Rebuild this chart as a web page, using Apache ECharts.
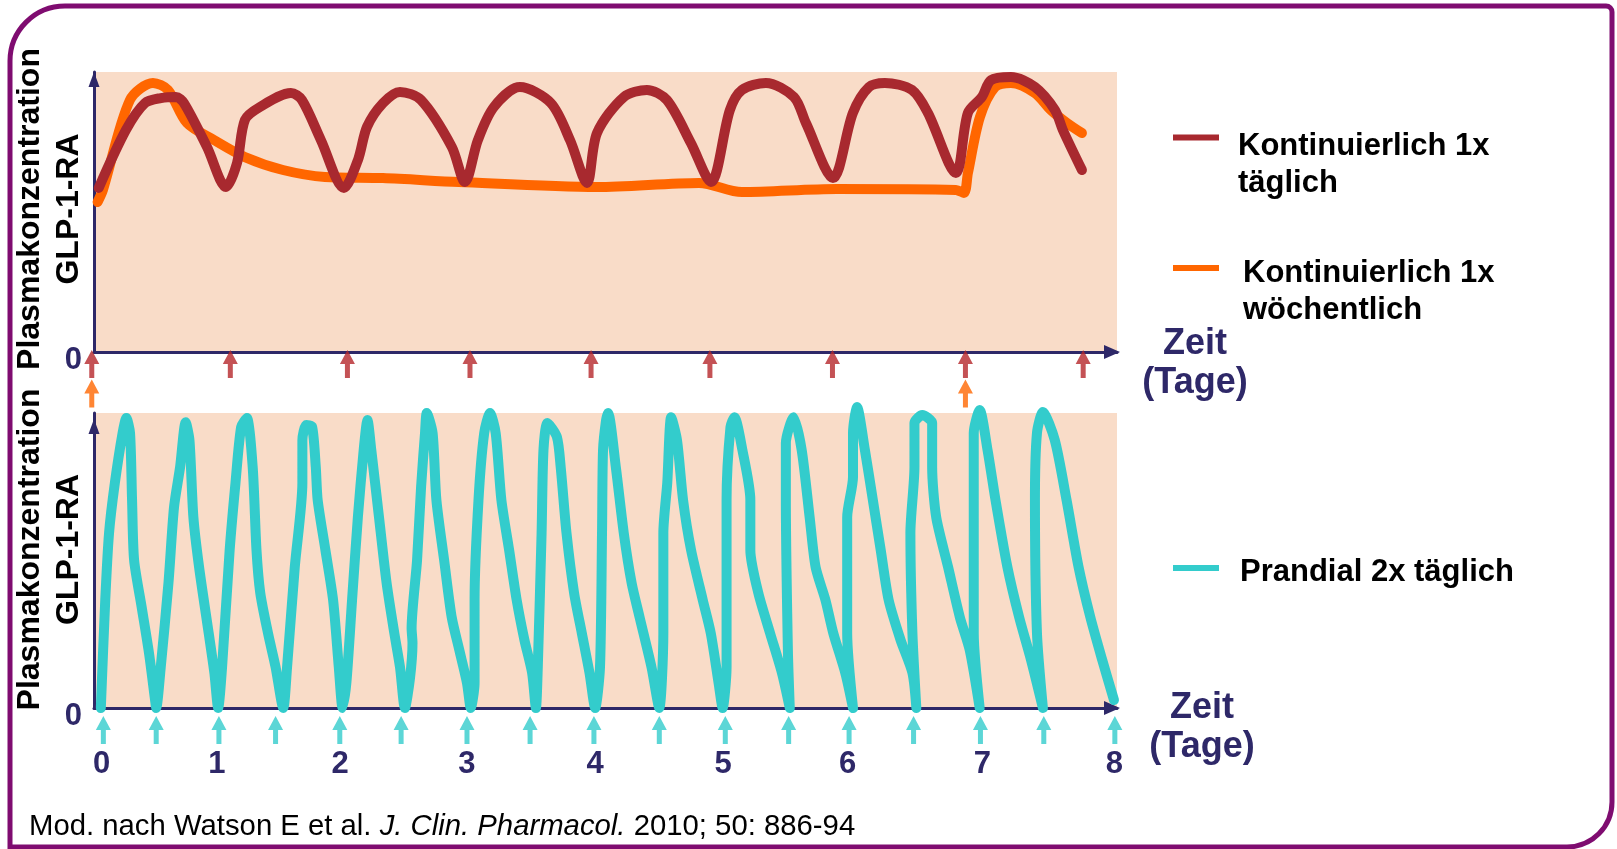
<!DOCTYPE html>
<html><head><meta charset="utf-8">
<script src="https://cdn.jsdelivr.net/npm/echarts@6/dist/echarts.min.js"></script>
<style>html,body{margin:0;padding:0;background:#fff}#c{width:1617px;height:849px}</style>
</head><body><div id="c"></div>
<script>
// ---------- DATA (x in days, y in relative plasma concentration, 0..100) ----------
const seriesNames = ['Kontinuierlich 1x täglich', 'Kontinuierlich 1x wöchentlich', 'Prandial 2x täglich'];

// once-daily continuous GLP-1-RA
const dailyCurve = [[0.056,58.6],[0.276,79.3],[0.429,88.9],[0.558,90.7],[0.679,91.1],[0.744,88.9],[0.930,73.2],[1.083,58.9],
 [1.172,67.5],[1.236,82.9],[1.357,87.5],[1.607,92.5],[1.696,90],[1.849,75.7],[2.035,58.6],
 [2.148,68.6],[2.221,80.4],[2.350,88.9],[2.487,92.9],[2.657,90],[2.906,73.2],[3.011,60.7],
 [3.116,75.7],[3.245,87.5],[3.455,94.6],[3.705,88.9],[3.859,75.7],[3.996,60.4],
 [4.077,78.2],[4.294,91.1],[4.480,93.6],[4.641,90],[4.835,74.6],[4.996,60.7],
 [5.149,86.4],[5.246,93.6],[5.440,96.1],[5.666,91.1],[5.763,81.8],[5.981,62.1],
 [6.142,85.4],[6.271,94.6],[6.400,96.1],[6.618,93.6],[6.747,85.4],[6.973,63.9],
 [7.070,85.4],[7.183,91.1],[7.256,97.1],[7.417,98.2],[7.611,94.6],[7.772,86.4],[7.836,79.3],[7.990,65]];

// once-weekly continuous GLP-1-RA
const weeklyCurve = [[0.047,53.6],[0.090,57.9],[0.308,90],[0.494,96.1],[0.615,93.6],[0.768,81.8],[0.986,75.7],[1.236,69.6],
 [1.543,65],[1.882,62.5],[2.350,62.1],[2.963,60.7],[4.077,58.9],[4.900,60.4],[5.246,57.1],[6.012,58.2],[6.973,57.9],
 [7.038,56.8],[7.070,63.9],[7.167,83.9],[7.288,94.6],[7.417,96.1],[7.611,92.5],[7.740,86.4],[7.869,81.8],[7.990,78.2]];

// prandial twice-daily GLP-1-RA
const prandialCurve = [[-0.02,0],[0.015,36.6],[0.045,59.3],[0.091,76.3],[0.152,93.2],[0.182,98.3],[0.211,93.2],[0.227,70.5],
 [0.243,50.2],[0.303,34.2],[0.361,18.6],[0.409,2.7],[0.418,0],
 [0.454,13.9],[0.515,42.4],[0.559,68.1],[0.607,81.7],[0.651,96.9],[0.681,90.8],[0.712,64.7],[0.757,47.8],[0.833,25.4],[0.878,11.9],[0.908,0],
 [0.939,13.9],[0.999,53.6],[1.045,76.3],[1.090,95.3],[1.135,98.3],[1.181,81.7],[1.211,53.6],[1.241,39],[1.302,25.4],[1.362,13.9],[1.423,0],
 [1.453,13.9],[1.514,47.8],[1.574,76.3],[1.574,90.8],[1.605,95.9],[1.651,95.3],[1.680,81.7],[1.695,70.5],[1.756,53.6],[1.817,36.6],[1.862,13.9],[1.892,0],
 [1.922,8.5],[1.967,36.6],[2.013,64.7],[2.059,87.5],[2.089,97.6],[2.119,87.5],[2.180,64.7],[2.240,42.4],[2.301,25.4],[2.346,13.9],[2.385,0],
 [2.425,10],[2.445,22],[2.438,27],[2.481,50],[2.513,75],[2.544,93.2],[2.558,100],[2.604,93.2],[2.634,70.5],[2.695,50.2],[2.755,30.8],[2.815,19.7],[2.876,8.5],[2.906,0],
 [2.936,8.5],[2.936,36.6],[2.967,70.5],[3.012,93.2],[3.058,100],[3.103,93.2],[3.148,70.5],[3.209,53.6],[3.269,36.6],[3.330,23.1],[3.391,11.9],[3.421,0],
 [3.436,13.9],[3.466,59.3],[3.481,87.5],[3.512,96.6],[3.587,91.9],[3.617,81.7],[3.663,59.3],[3.723,39],[3.784,25.4],[3.845,11.9],[3.890,0],
 [3.928,13.9],[3.944,59.3],[3.952,87.5],[3.976,97.6],[3.992,100],[4.053,81.7],[4.116,59.3],[4.178,42.4],[4.241,30.8],[4.335,13.9],[4.397,0],
 [4.429,25.4],[4.429,59.3],[4.460,76.3],[4.491,98.6],[4.537,90.8],[4.585,70.5],[4.648,53.6],[4.741,36.6],[4.804,25.4],[4.866,8.5],[4.898,0],
 [4.929,13.9],[4.929,70.5],[4.960,95.3],[4.991,98.6],[5.054,87.5],[5.117,70.5],[5.117,53.6],[5.180,39],[5.273,25.4],[5.367,11.9],[5.429,0],
 [5.414,19.7],[5.398,70.5],[5.398,89.8],[5.460,98.6],[5.523,87.5],[5.586,64.7],[5.633,47.8],[5.711,36.6],[5.773,25.4],[5.868,11.9],[5.929,0],
 [5.883,25.4],[5.883,64.7],[5.929,78.3],[5.929,93.2],[5.961,102],[6.023,87.5],[6.086,70.5],[6.148,53.6],[6.211,36.6],[6.305,23.1],[6.399,11.9],[6.430,0],
 [6.399,25.4],[6.383,59.3],[6.415,81.7],[6.415,96.6],[6.477,99.3],[6.555,96.6],[6.555,81.7],[6.587,64.7],[6.681,47.8],[6.774,30.8],[6.852,19.7],[6.931,0],
 [6.884,25.4],[6.884,70.5],[6.884,93.2],[6.931,101],[6.993,87.5],[7.056,70.5],[7.150,47.8],[7.243,30.8],[7.337,16.3],[7.431,0],
 [7.384,25.4],[7.368,70.5],[7.384,93.2],[7.431,100.3],[7.525,90.8],[7.618,70.5],[7.713,47.8],[7.806,30.8],[7.900,16.3],[7.993,2.7]];

// injection times (days) as drawn
const dailyDoses = [0, 1.118, 2.063, 3.052, 4.029, 4.988, 5.977, 7.05, 8.0];
const weeklyDoses = [0, 7.05];
const prandialDoses = [0, 0.418, 0.914, 1.362, 1.870, 2.355, 2.876, 3.375, 3.880, 4.397, 4.919, 5.420, 5.898, 6.408, 6.937, 7.438, 8.0];

// x tick labels (bottom panel) and where they sit on the day axis
const tickLabels = ['0','1','2','3','4','5','6','7','8'];
const tickPositions = [-0.013, 0.897, 1.872, 2.876, 3.889, 4.901, 5.886, 6.953, 7.997];

const yAxisTitle = 'Plasmakonzentration\nGLP-1-RA';
const xAxisTitle = 'Zeit\n(Tage)';
const citation = 'Mod. nach Watson E et al. {i|J. Clin. Pharmacol.} 2010; 50: 886-94';

// ---------- STYLE ----------
const FONT = "'Liberation Sans', Arial, sans-serif";
const NAVY = '#2E2868';
const PEACH = '#F9DCC8';
const C_RED = '#A8292F', C_RED_ARROW = '#B5272A', C_ORANGE = '#FF6600', C_CYAN = '#33CCCC';
const ARROW = 'path://M7.5,0 L15,14 L10,14 L10,28 L5,28 L5,14 L0,14 Z';

function nearestIdx(arr, v){let b=0,d=1e9;arr.forEach((a,i)=>{const e=Math.abs(a-v);if(e<d){d=e;b=i;}});return b;}
// rich text with a thin spacer line on top (used to nudge multi-line text vertically)
function spaced(text, style){ return '{s| }\n' + text.split('\n').map(t => '{' + style + '|' + t + '}').join('\n'); }
// rich text with a fixed-width lead token on each line (nudges centred lines along the text direction)
function led(text, style){ return text.split('\n').map(t => '{p| }{' + style + '|' + t + '}').join('\n'); }

function yAxisCfg(gridIndex, zeroLH, arrowOff, lead){
  const t = {fontFamily:FONT, fontSize:32, fontWeight:'bold', color:'#000', lineHeight:39};
  return {
    type:'value', gridIndex, min:0, max:100, interval:100,
    name: led(yAxisTitle, 't'), nameLocation:'middle', nameRotate:90, nameGap:5, nameMoveOverlap:false,
    nameTextStyle:Object.assign({}, t, {rich:{t, p:{fontSize:2, width:lead}}}),
    axisLine:{show:true, onZero:false, symbol:['none','triangle'], symbolSize:[11,15], symbolOffset:[0,arrowOff], lineStyle:{color:NAVY, width:3}},
    axisTick:{show:false}, splitLine:{show:false},
    axisLabel:{formatter:v => v === 0 ? '0' : '', fontFamily:FONT, fontSize:31, fontWeight:'bold', color:NAVY, margin:12,
      verticalAlign:'top', lineHeight:zeroLH}
  };
}

function xAxisCfg(gridIndex, min, max, nameGap, spacerH, showLabels){
  const tStyle = {fontFamily:FONT, fontSize:36, fontWeight:'bold', color:NAVY, lineHeight:39, align:'center'};
  return {
    type:'value', gridIndex, min, max,
    name: spaced(xAxisTitle, 't'), nameLocation:'end', nameGap, nameMoveOverlap:false,
    nameTextStyle:{fontFamily:FONT, fontSize:36, fontWeight:'bold', color:NAVY, align:'center', lineHeight:39,
      rich:{s:{fontSize:2, lineHeight:spacerH}, t:tStyle}},
    axisLine:{show:true, onZero:false, symbol:['none','triangle'], symbolSize:[14,16], symbolOffset:[0,-5], lineStyle:{color:NAVY, width:3}},
    axisTick:{show:false}, splitLine:{show:false},
    axisLabel: showLabels ? {
      show:true, customValues: tickPositions,
      formatter: v => tickLabels[nearestIdx(tickPositions, v)],
      fontFamily:FONT, fontSize:31, fontWeight:'bold', color:NAVY, margin:41
    } : {show:false}
  };
}

function arrows(doses, xi, color, offset){
  return {type:'scatter', xAxisIndex:xi, yAxisIndex:xi, clip:false, silent:true, z:4,
    symbol:ARROW, symbolSize:[15,28], symbolOffset:[0,offset], itemStyle:{color},
    data: doses.map(d => [d, 0])};
}

function legendCfg(name, top, spacerH, padLeft){
  const t = {fontFamily:FONT, fontSize:31, fontWeight:'bold', color:'#000', lineHeight:37};
  return {data:[name], left:1173, top, padding:0, icon:'rect', itemWidth:46, itemHeight:6, selectedMode:false,
    formatter: n => spaced(n.replace(' 1x ', ' 1x\n'), 't'),
    textStyle:Object.assign({}, t, {padding:[0,0,0,padLeft], rich:{s:{fontSize:2, lineHeight:spacerH}, t}})};
}

const chart = echarts.init(document.getElementById('c'), null, {renderer:'canvas'});
chart.setOption({
  animation:false,
  backgroundColor:'#fff',
  title:{text:citation, left:29, top:812, padding:0,
    textStyle:{fontFamily:FONT, fontSize:29.3, fontWeight:'normal', color:'#000',
      rich:{i:{fontFamily:FONT, fontSize:29.3, fontStyle:'italic', color:'#000'}}}},
  graphic:[{type:'rect', z:-10, silent:true,
    shape:{x:10, y:6, width:1602, height:841, r:[55,6,45,0]},
    style:{fill:'none', stroke:'#7F0C70', lineWidth:5}}],
  legend:[
    legendCfg(seriesNames[0], 73, 55, 14),
    legendCfg(seriesNames[1], 207, 48, 19),
    legendCfg(seriesNames[2], 545.5, 8, 16)
  ],
  grid:[
    {left:94, top:72, width:1023, height:280, show:true, backgroundColor:PEACH, borderWidth:0, containLabel:false, outerBoundsMode:'none'},
    {left:94, top:413, width:1023, height:295, show:true, backgroundColor:PEACH, borderWidth:0, containLabel:false, outerBoundsMode:'none'}
  ],
  xAxis:[
    xAxisCfg(0, 0.018, 8.273, 78, 23, false),
    xAxisCfg(1, -0.074, 8.017, 85, 39, true)
  ],
  yAxis:[
    yAxisCfg(0, 16, -7.5, 6),
    yAxisCfg(1, 17, -13.5, 22)
  ],
  series:[
    {name:seriesNames[1], type:'line', xAxisIndex:0, yAxisIndex:0, data:weeklyCurve, showSymbol:false, smooth:0.3, clip:false, z:2,
      lineStyle:{color:C_ORANGE, width:10, cap:'round', join:'round'}, itemStyle:{color:C_ORANGE}},
    {name:seriesNames[0], type:'line', xAxisIndex:0, yAxisIndex:0, data:dailyCurve, showSymbol:false, smooth:0.3, clip:false, z:3,
      lineStyle:{color:C_RED, width:10, cap:'round', join:'round'}, itemStyle:{color:C_RED}},
    arrows(dailyDoses, 0, C_RED_ARROW, 12),
    arrows(weeklyDoses, 0, C_ORANGE, 41.5),
    {name:seriesNames[2], type:'line', xAxisIndex:1, yAxisIndex:1, data:prandialCurve, showSymbol:false, smooth:0.25, clip:false, z:3,
      lineStyle:{color:C_CYAN, width:10, cap:'round', join:'round'}, itemStyle:{color:C_CYAN}},
    arrows(prandialDoses, 1, C_CYAN, 22)
  ]
});
</script></body></html>
